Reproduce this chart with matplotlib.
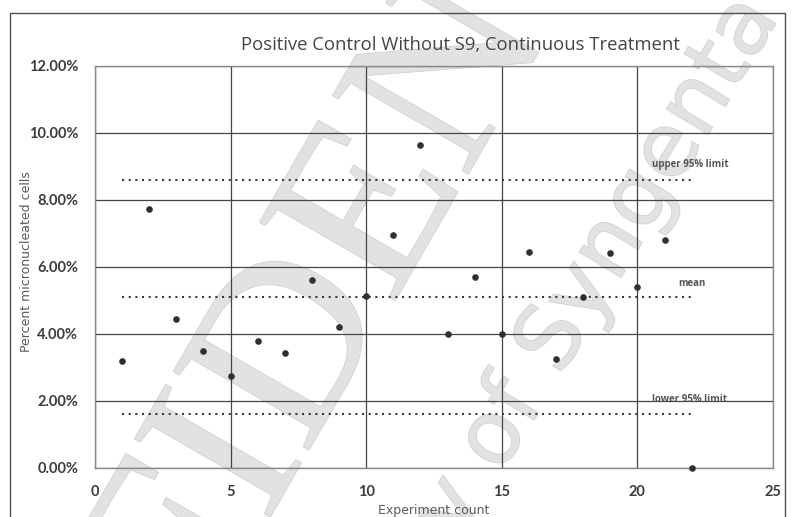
import matplotlib
matplotlib.use("Agg")
import matplotlib.pyplot as plt
import matplotlib.patheffects as pe
from matplotlib.patches import Rectangle
from matplotlib.ticker import FuncFormatter

# experiment number vs. % micronucleated cells
experiments = list(range(1, 23))
pct_mn = [3.20, 7.73, 4.45, 3.49, 2.74, 3.80, 3.44, 5.60, 4.20, 5.13, 6.96,
          9.64, 4.00, 5.70, 4.00, 6.45, 3.25, 5.10, 6.42, 5.40, 6.81, 0.00]

# control limits
upper_95 = 8.60
mean_pct = 5.10
lower_95 = 1.61
limit_span = (1, 22)
limit_labels = ["upper 95% limit", "mean", "lower 95% limit"]

DARK = "#3a3a3a"
GRID = "#444444"

fig = plt.figure(figsize=(7.95, 5.17), dpi=100)
ax = fig.add_axes([0.1195, 0.0948, 0.8528, 0.7776])
ax.patch.set_facecolor("none")

# background watermark
wm = dict(color="#e2e2e4", zorder=-5, rotation_mode="anchor", ha="center", va="baseline",
          path_effects=[pe.withStroke(linewidth=1.0, foreground="#cdcdcf")])
fig.text(385 / 795, 1 - 318 / 517, "CONFIDENTIAL", family="Liberation Serif", fontsize=172,
         rotation=60, **wm)
fig.text(0.673, 0.1915, "Property of Syngenta", family="DejaVu Sans", fontsize=64,
         rotation=58.6, **wm)

# outer frame
fig.patches.append(Rectangle((10 / 795, -0.02), 775 / 795, 1 - 13 / 517 + 0.02,
                             transform=fig.transFigure, fill=False, ec="#505050", lw=1.0))

ax.set_xlim(0, 25)
ax.set_ylim(0, 12)
ax.set_xticks(range(0, 26, 5))
ax.set_yticks(range(0, 13, 2))
ax.yaxis.set_major_formatter(FuncFormatter(lambda v, _: f"{v:.2f}%"))
ax.grid(True, color=GRID, lw=0.9)
ax.set_axisbelow(True)
for s in ax.spines.values():
    s.set_color("#8a8a8a")
    s.set_linewidth(1.0)
ax.tick_params(length=0, pad=12, labelsize=10.5, labelcolor="#3c3c3c")
for lab in ax.get_xticklabels() + ax.get_yticklabels():
    lab.set_fontweight("bold")
    lab.set_family("Lato")

for y in (upper_95, mean_pct, lower_95):
    ax.hlines(y, *limit_span, colors=DARK, linestyles=(0, (1, 2.2)), lw=1.5, zorder=3)

ax.scatter(experiments, pct_mn, s=14, color="#2f2f2f", zorder=4, clip_on=False)

lab_kw = dict(fontsize=7, fontweight="bold", color="#555555", family="Open Sans", va="center")
ax.text(20.54, 9.05, limit_labels[0], **lab_kw)
ax.text(21.5, 5.52, limit_labels[1], **lab_kw)
ax.text(20.54, 2.03, limit_labels[2], **lab_kw)

fig.text(460 / 795, 1 - 45 / 517, "Positive Control Without S9, Continuous Treatment",
         ha="center", va="center", fontsize=13.3, color="#454545", family="Open Sans")
fig.text(27 / 795, 1 - 262 / 517, "Percent micronucleated cells", rotation=90,
         ha="center", va="center", fontsize=9, color="#595959", family="DejaVu Sans")
ax.set_xlabel("Experiment count", fontsize=9, color="#595959", family="DejaVu Sans",
              labelpad=4)

fig.savefig("out.png", dpi=100)
